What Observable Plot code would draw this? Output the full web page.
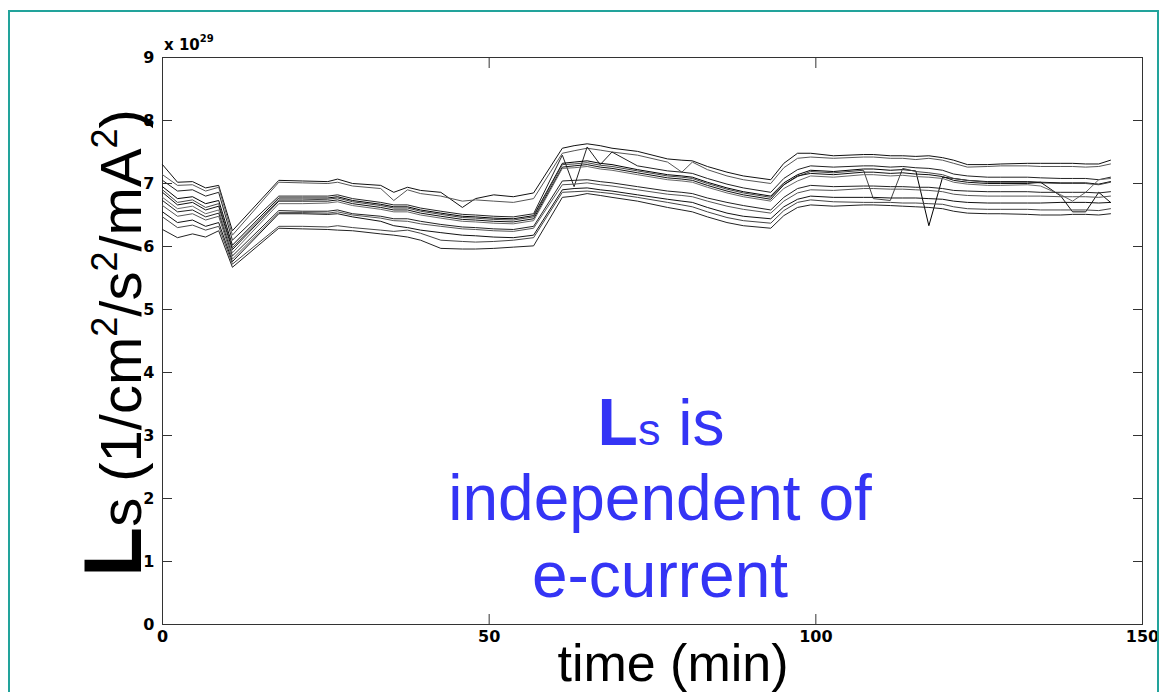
<!DOCTYPE html>
<html><head><meta charset="utf-8">
<script src="https://cdn.jsdelivr.net/npm/d3@7"></script>
<script src="https://cdn.jsdelivr.net/npm/@observablehq/plot@0.6"></script>
<style>
body{margin:0;background:#fff;}
#wrap{position:relative;width:1162px;height:692px;overflow:hidden;background:#fff;}
#chart{position:absolute;left:0;top:0;}
#border{position:absolute;left:8px;top:10px;width:1151px;height:720px;border:2px solid #22a39b;box-sizing:border-box;pointer-events:none;}
</style></head><body>
<div id="wrap"><div id="chart"></div><div id="border"></div></div>
<script>
// time (min)
const times = [0,2.3,4.6,6.6,8.6,10.7,17.8,21.4,25.3,26.8, 29.1,33.4,35.4,37.5,39.5,42.6,45.9,47.9,50.7,53.7, 56.8,61.2,63.0,65.0,67.0,68.8,72.7,77.3,79.5,81.1, 83.4,86.4,88.9,93.1,95.1,97.2,99.2,102.7,107.3,108.8, 111.4,113.3,115.3,117.3,119.4,121.1,123.2,126.3,128.3,132.4, 134.4,137.5,139.3,141.3,143.3,145.1];
// Ls values in units of 1e29
const s1 = [7.30,7.02,7.03,6.93,6.97,6.25,7.05,7.04,7.03,7.07, 7.00,6.97,6.86,6.94,6.89,6.86,6.62,6.76,6.82,6.79, 6.85,7.56,7.60,7.63,7.60,7.56,7.51,7.39,7.37,7.36, 7.27,7.18,7.12,7.06,7.32,7.48,7.48,7.44,7.46,7.46, 7.44,7.44,7.43,7.44,7.41,7.37,7.30,7.30,7.31,7.32, 7.32,7.32,7.32,7.31,7.31,7.37];
const s2 = [7.14,6.97,6.98,6.88,6.94,6.18,7.02,7.01,7.00,7.02, 6.96,6.92,6.73,6.90,6.84,6.80,6.72,6.74,6.72,6.70, 6.76,7.48,7.52,7.56,7.53,7.50,7.45,7.34,7.18,7.34, 7.22,7.12,7.06,7.00,7.25,7.40,7.42,7.40,7.42,7.42, 7.40,7.40,7.38,7.40,7.37,7.32,7.26,7.27,7.28,7.28, 7.27,7.27,7.27,7.26,7.27,7.31];
const s3 = [7.05,6.88,6.90,6.80,6.86,6.10,6.80,6.80,6.80,6.82, 6.76,6.70,6.66,6.66,6.61,6.56,6.51,6.50,6.48,6.47, 6.52,7.45,6.95,7.58,7.30,7.50,7.28,7.20,7.18,7.16, 7.08,6.99,6.93,6.86,7.08,7.22,7.28,7.26,7.28,7.28, 7.26,7.27,7.25,7.24,7.21,7.15,7.12,7.10,7.10,7.10, 7.09,7.08,7.08,7.08,7.06,7.10];
const s4 = [6.95,6.76,6.79,6.68,6.73,6.02,6.77,6.77,6.77,6.79, 6.73,6.67,6.63,6.63,6.58,6.53,6.48,6.47,6.45,6.44, 6.49,7.32,7.34,7.36,7.32,7.30,7.22,7.14,7.12,7.10, 7.02,6.93,6.87,6.80,7.01,7.14,7.21,7.19,7.23,7.23, 7.21,7.22,7.20,6.33,7.10,7.08,7.05,7.03,7.03,7.03, 7.02,7.01,7.01,7.01,6.99,7.03];
const s5 = [6.90,6.70,6.74,6.62,6.68,5.98,6.74,6.74,6.75,6.77, 6.71,6.65,6.61,6.61,6.56,6.51,6.46,6.45,6.43,6.42, 6.47,7.30,7.31,7.33,7.29,7.27,7.20,7.12,7.10,7.08, 7.00,6.91,6.85,6.78,6.98,7.11,7.19,7.17,7.21,6.76, 6.73,7.24,7.19,7.17,7.14,7.08,7.05,7.02,7.02,7.02, 7.01,7.00,7.00,7.00,6.98,7.02];
const s6 = [6.86,6.66,6.70,6.58,6.64,5.95,6.72,6.72,6.72,6.74, 6.68,6.62,6.58,6.58,6.53,6.48,6.43,6.42,6.40,6.39, 6.44,7.26,7.28,7.30,7.26,7.24,7.17,7.09,7.07,7.05, 6.97,6.88,6.82,6.75,6.98,7.12,7.16,7.14,7.18,7.18, 7.16,7.17,7.15,7.14,7.11,7.05,7.02,7.00,7.00,7.00, 7.02,6.80,6.55,6.55,6.86,6.70];
const s7 = [6.78,6.60,6.64,6.52,6.58,5.90,6.68,6.68,6.69,6.71, 6.65,6.59,6.55,6.55,6.50,6.45,6.40,6.39,6.37,6.36, 6.41,7.24,7.25,7.27,7.23,7.21,7.14,7.06,7.04,7.02, 6.94,6.85,6.79,6.72,6.92,7.04,7.12,7.10,7.14,7.14, 7.12,7.13,7.11,7.10,7.08,7.02,6.99,6.97,6.97,6.98, 6.96,6.82,6.72,6.86,7.06,7.08];
const s8 = [6.73,6.55,6.58,6.47,6.53,5.85,6.57,6.56,6.56,6.58, 6.52,6.48,6.44,6.44,6.40,6.35,6.31,6.30,6.28,6.27, 6.32,7.04,7.05,7.06,7.03,7.01,6.95,6.88,6.86,6.84, 6.77,6.70,6.65,6.58,6.78,6.92,6.97,6.95,6.96,6.96, 6.95,6.95,6.94,6.94,6.92,6.89,6.88,6.87,6.87,6.87, 6.86,6.86,6.86,6.86,6.85,6.87];
const s9 = [6.65,6.48,6.52,6.42,6.48,5.80,6.54,6.54,6.53,6.55, 6.50,6.45,6.41,6.40,6.36,6.32,6.28,6.27,6.25,6.24, 6.29,6.98,6.99,7.01,6.98,6.96,6.90,6.83,6.81,6.79, 6.72,6.64,6.59,6.53,6.72,6.85,6.90,6.89,6.92,6.92, 6.91,6.91,6.90,6.89,6.87,6.83,6.81,6.80,6.80,6.80, 6.80,6.79,6.79,6.79,6.78,6.80];
const s10 = [6.55,6.38,6.42,6.32,6.38,5.76,6.52,6.52,6.51,6.52, 6.47,6.40,6.33,6.30,6.26,6.22,6.18,6.17,6.15,6.14, 6.18,6.90,6.92,6.93,6.90,6.88,6.82,6.75,6.72,6.70, 6.62,6.53,6.48,6.44,6.63,6.75,6.80,6.78,6.78,6.78, 6.77,6.77,6.77,6.76,6.75,6.72,6.70,6.69,6.69,6.69, 6.69,6.70,6.70,6.70,6.69,6.70];
const s11 = [6.47,6.30,6.34,6.26,6.32,5.72,6.32,6.32,6.31,6.33, 6.30,6.26,6.24,6.26,6.21,6.10,6.08,6.07,6.08,6.10, 6.14,6.86,6.87,6.88,6.86,6.84,6.78,6.70,6.66,6.63, 6.55,6.46,6.41,6.37,6.57,6.70,6.74,6.71,6.70,6.70, 6.70,6.69,6.69,6.68,6.67,6.63,6.60,6.59,6.59,6.59, 6.58,6.58,6.58,6.58,6.57,6.60];
const s12 = [6.27,6.14,6.20,6.15,6.25,5.67,6.29,6.28,6.27,6.26, 6.25,6.20,6.18,6.15,6.10,5.97,5.96,5.96,5.97,5.99, 6.01,6.78,6.80,6.84,6.81,6.78,6.72,6.62,6.58,6.55, 6.47,6.38,6.33,6.29,6.49,6.62,6.66,6.64,6.66,6.66, 6.65,6.64,6.63,6.62,6.60,6.56,6.53,6.52,6.52,6.51, 6.50,6.50,6.51,6.51,6.50,6.52];
const seriesNames = ["s1","s2","s3","s4","s5","s6","s7","s8","s9","s10","s11","s12"];
const xTicks = [0, 50, 100, 150];
const yTicks = [0, 1, 2, 3, 4, 5, 6, 7, 8, 9];

const allSeries = [s1,s2,s3,s4,s5,s6,s7,s8,s9,s10,s11,s12];
const rows = [];
allSeries.forEach((vals, i) => vals.forEach((v, j) => rows.push({series: seriesNames[i], t: times[j], v})));

const font = "'Liberation Sans', Arial, Helvetica, sans-serif";
const tickFont = "'DejaVu Sans', sans-serif";
const plot = Plot.plot({
  width: 1162, height: 692,
  marginLeft: 162, marginRight: 20, marginTop: 57, marginBottom: 68,
  style: {fontFamily: font, fontSize: "15px", fontWeight: "normal", background: "transparent", color: "#000"},
  x: {domain: [0, 150]},
  y: {domain: [0, 9]},
  color: {type: "ordinal", domain: seriesNames, range: ["#111","#555","#222","#000","#444","#111","#666","#222","#555","#111","#444","#222"]},
  marks: [
    Plot.frame({stroke: "#333", strokeWidth: 1}),
    Plot.line(rows, {x: "t", y: "v", z: "series", stroke: "series", strokeWidth: 1}),
    Plot.axisY({ticks: yTicks, tickSize: 0, tickPadding: 8, label: null, fontFamily: tickFont, fontWeight: "bold", fontSize: 16}),
    Plot.axisX({ticks: xTicks, tickSize: 0, tickPadding: 6, label: null, fontFamily: tickFont, fontWeight: "bold", fontSize: 16}),
    Plot.axisY({ticks: yTicks, anchor: "left", tickSize: -10, tickFormat: () => "", label: null, stroke: "#333"}),
    Plot.axisY({ticks: yTicks, anchor: "right", tickSize: -10, tickFormat: () => "", label: null, stroke: "#333"}),
    Plot.axisX({ticks: xTicks, anchor: "bottom", tickSize: -10, tickFormat: () => "", label: null, stroke: "#333"}),
    Plot.axisX({ticks: xTicks, anchor: "top", tickSize: -10, tickFormat: () => "", label: null, stroke: "#333"})
  ]
});
document.getElementById("chart").appendChild(plot);

const svg = d3.select(plot);
// make sure tick-label typography applies
svg.selectAll('g[aria-label$="tick label"]')
  .attr("font-size", 16).attr("font-weight", "bold").attr("font-family", tickFont)
  .selectAll("text").style("font-size", "16px").style("font-weight", "bold").style("font-family", tickFont);

// exponent label
const ex = svg.append("text").attr("x", 164).attr("y", 50).attr("text-anchor", "start")
  .attr("font-family", tickFont).attr("font-size", 15).attr("font-weight", "bold").attr("fill", "#000");
ex.append("tspan").text("x 10");
ex.append("tspan").attr("font-size", 10).attr("dy", -8).text("29");

// y-axis title
const yl = svg.append("text").attr("transform", "translate(141,343) rotate(-90)")
  .attr("text-anchor", "middle").attr("font-family", font).attr("font-weight", "normal")
  .attr("fill", "#000").attr("font-size", 58);
yl.append("tspan").attr("font-weight", "bold").attr("font-size", 82).text("L");
yl.append("tspan").text("s (1/cm");
yl.append("tspan").attr("font-size", 36).attr("dy", -24).text("2");
yl.append("tspan").attr("dy", 24).text("/s");
yl.append("tspan").attr("font-size", 36).attr("dy", -24).text("2");
yl.append("tspan").attr("dy", 24).text("/mA");
yl.append("tspan").attr("font-size", 36).attr("dy", -24).text("2");
yl.append("tspan").attr("dy", 24).text(")");

// x-axis title
svg.append("text").attr("x", 673).attr("y", 681).attr("text-anchor", "middle").attr("font-weight", "normal")
  .attr("font-family", font).attr("font-size", 52).attr("fill", "#000").text("time (min)");

// annotation
const blue = "#3434f5";
const a1 = svg.append("text").attr("x", 661).attr("y", 445).attr("text-anchor", "middle").attr("font-weight", "normal")
  .attr("font-family", font).attr("font-size", 64).attr("fill", blue);
a1.append("tspan").attr("font-weight", "bold").attr("font-size", 66).text("L");
a1.append("tspan").attr("font-size", 45).text("s");
a1.append("tspan").text(" is");
svg.append("text").attr("x", 660).attr("y", 520).attr("text-anchor", "middle").attr("font-weight", "normal")
  .attr("font-family", font).attr("font-size", 64).attr("fill", blue).text("independent of");
svg.append("text").attr("x", 660).attr("y", 597).attr("text-anchor", "middle").attr("font-weight", "normal")
  .attr("font-family", font).attr("font-size", 64).attr("fill", blue).text("e-current");
</script>
</body></html>
